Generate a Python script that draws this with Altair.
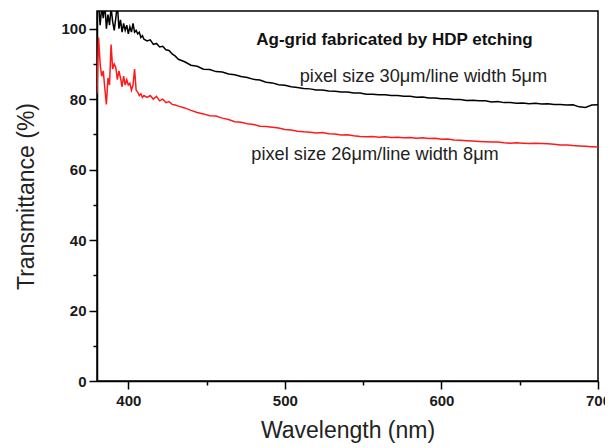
import altair as alt
import pandas as pd

# Sampling grid (nm): dense at the noisy short-wavelength end
wavelength = list(range(380, 411)) + list(range(412, 431, 2)) + list(range(432, 701, 4))

# pixel size 30um / line width 5um (black)
black = (
    # 380-410, step 1
    [104, 107, 101, 106, 103, 107, 100, 104, 101, 106,
     102, 99.5, 103, 107, 100, 102.5, 99, 101.5, 99.5, 101,
     98.5, 100.5, 99, 101.5, 99, 99.5, 98.5, 99, 97.5, 98,
     97]
    # 412-430, step 2
    + [96.5, 96.8, 95.5, 95.8, 94.8, 95.0, 94.0, 93.8, 92.8, 92.2]
    # 432-700, step 4
    + [91.3, 90.6, 89.6, 89.3, 88.5, 88.4, 87.8, 87.7, 87.1, 86.9,
       86.4, 86.1, 85.6, 85.4, 84.8, 84.6, 84.1, 83.9, 83.5, 83.3,
       83.0, 82.9, 82.6, 82.6, 82.3, 82.2, 82.0, 82.0, 81.7, 81.7,
       81.4, 81.4, 81.2, 81.2, 81.0, 81.0, 80.8, 80.8, 80.5, 80.6,
       80.3, 80.3, 80.1, 80.1, 79.9, 79.9, 79.6, 79.7, 79.5, 79.5,
       79.2, 79.3, 79.0, 79.0, 78.8, 78.9, 78.7, 78.8, 78.6, 78.7,
       78.5, 78.5, 78.3, 78.4, 77.8, 77.6, 78.3, 78.4]
)

# pixel size 26um / line width 8um (red)
red = (
    # 380-410, step 1
    [81.5, 97.5, 90, 86.5, 88, 83, 78.5, 86, 84, 95.5,
     88.5, 90, 89, 85.5, 88, 86, 83.5, 86.5, 84, 85.5,
     84, 84.5, 82.5, 84, 88.5, 82.5, 82, 81, 81.5, 80.5,
     81]
    # 412-430, step 2
    + [80.5, 81, 80, 80.8, 79.5, 80, 79, 79.3, 78.5, 78.3]
    # 432-700, step 4
    + [78.0, 77.5, 76.8, 76.2, 75.8, 75.3, 75.2, 74.6, 74.2, 73.6,
       73.4, 73.0, 72.8, 72.3, 72.2, 72.0, 71.8, 71.4, 71.2, 70.9,
       70.7, 70.6, 70.4, 70.5, 70.2, 70.1, 69.8, 69.9, 69.6, 69.4,
       69.3, 69.4, 69.2, 69.3, 69.1, 69.2, 69.0, 69.1, 68.9, 69.0,
       68.8, 68.9, 68.6, 68.7, 68.4, 68.3, 68.2, 68.1, 68.0, 67.9,
       67.8, 67.8, 67.6, 67.5, 67.6, 67.5, 67.4, 67.5, 67.4, 67.3,
       67.2, 67.0, 67.0, 66.8, 66.7, 66.6, 66.5, 66.4]
)

series_names = ["pixel size 30\u03bcm/line width 5\u03bcm", "pixel size 26\u03bcm/line width 8\u03bcm"]
series_colors = ["#000000", "#ff1a1a"]

x_major = [400, 500, 600, 700]
x_minor = [450, 550, 650]
y_major = [0, 20, 40, 60, 80, 100]
y_minor = [10, 30, 50, 70, 90]

# annotations (data coordinates)
ann_title = ["Ag-grid fabricated by HDP etching"]
ann_title_x = [570]
ann_title_y = [95.4]
ann_labels = series_names
ann_labels_x = [588.5, 557.6]
ann_labels_y = [84.9, 62.7]

df = pd.DataFrame({
    "wl": wavelength * 2,
    "T": black + red,
    "series": [series_names[0]] * len(wavelength) + [series_names[1]] * len(wavelength),
})
df_title = pd.DataFrame({"wl": ann_title_x, "T": ann_title_y, "label": ann_title})
df_labels = pd.DataFrame({"wl": ann_labels_x, "T": ann_labels_y, "label": ann_labels})

FONT = "Liberation Sans"
xscale = alt.Scale(domain=[380, 700], nice=False, zero=False)
yscale = alt.Scale(domain=[0, 105], nice=False, zero=True)

lines = alt.Chart(df).mark_line(strokeWidth=1.5, clip=True).encode(
    x=alt.X("wl:Q", scale=xscale,
            axis=alt.Axis(values=x_major, title="Wavelength (nm)", tickSize=8,
                          labelPadding=4, titlePadding=11, grid=False, orient="bottom",
                          labelFlush=False)),
    y=alt.Y("T:Q", scale=yscale,
            axis=alt.Axis(values=y_major, title="Transmittance (%)", tickSize=8,
                          labelPadding=3, titlePadding=22, grid=False, orient="left")),
    color=alt.Color("series:N", scale=alt.Scale(domain=series_names, range=series_colors), legend=None),
)

minor = alt.Chart(df).mark_point(opacity=0, clip=True).encode(
    x=alt.X("wl:Q", scale=xscale,
            axis=alt.Axis(values=x_minor, labels=False, tickSize=4, domain=False,
                          title=None, grid=False, orient="bottom")),
    y=alt.Y("T:Q", scale=yscale,
            axis=alt.Axis(values=y_minor, labels=False, tickSize=4, domain=False,
                          title=None, grid=False, orient="left")),
)

title_text = alt.Chart(df_title).mark_text(
    font=FONT, fontSize=17, fontWeight="bold", color="#111111",
    align="center", baseline="alphabetic",
).encode(
    x=alt.X("wl:Q", scale=xscale, axis=None),
    y=alt.Y("T:Q", scale=yscale, axis=None),
    text="label:N",
)

label_text = alt.Chart(df_labels).mark_text(
    font=FONT, fontSize=18.2, color="#222222",
    align="center", baseline="alphabetic",
).encode(
    x=alt.X("wl:Q", scale=xscale, axis=None),
    y=alt.Y("T:Q", scale=yscale, axis=None),
    text="label:N",
)

chart = alt.layer(lines, minor, title_text, label_text).resolve_axis(
    x="independent", y="independent"
).properties(
    width=501, height=370,
    autosize=alt.AutoSizeParams(type="none"),
    padding={"left": 89, "top": 3, "right": 7, "bottom": 66},
).configure_view(
    stroke="#000000", strokeWidth=1.5,
).configure_axis(
    domainColor="#000000", domainWidth=1.5,
    tickColor="#000000", tickWidth=1.5,
    labelFont=FONT, labelFontSize=15, labelFontWeight="bold", labelColor="#1a1a1a",
    titleFont=FONT, titleFontSize=23, titleFontWeight="normal", titleColor="#222222",
)

chart.save("out.html", embed_options={"renderer": "svg", "actions": False})
